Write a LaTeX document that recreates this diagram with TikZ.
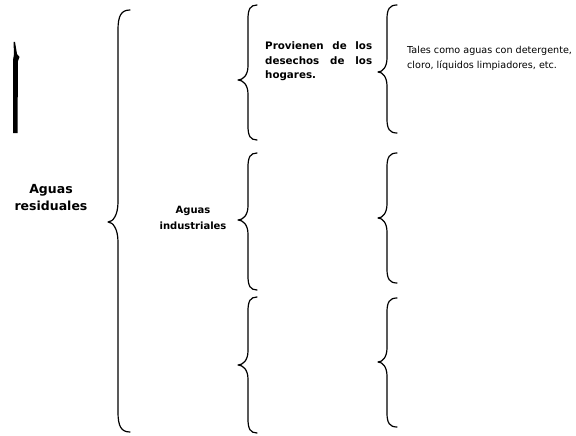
\documentclass[tikz,border=0pt]{standalone}
\usepackage{fontspec}
\setmainfont{DejaVu Sans}
\begin{document}
\begin{tikzpicture}[x=1pt,y=-1pt,
  bracestyle/.style={draw=black,line width=1.2pt,line cap=round,line join=round},
  bigtitle/.style={font=\bfseries\fontsize{12.5}{17}\selectfont,align=center,inner sep=0pt},
  subtitle/.style={font=\bfseries\fontsize{10}{16}\selectfont,align=center,inner sep=0pt},
  bodybold/.style={font=\bfseries\fontsize{10.3}{14.5}\selectfont,text width=107pt,align=justify,inner sep=0pt},
  bodyreg/.style={font=\fontsize{9.6}{15.5}\selectfont,align=left,inner sep=0pt}
]
\useasboundingbox (0,0) rectangle (576,436);
\fill[white] (0,0) rectangle (576,436);

% brace: #1 x of spine, #2 top y, #3 tip y, #4 bottom y, #5 end width, #6 tip width, #7 curve length
\newcommand\curlybr[7]{%
  \draw[bracestyle] ({#1+#5},{#2}) .. controls ({#1+0.25*#5},{#2}) and ({#1},{#2+0.3*#7}) .. ({#1},{#2+#7})
    -- ({#1},{#3-#7}) .. controls ({#1},{#3-0.35*#7}) and ({#1-0.5*#6},{#3}) .. ({#1-#6},{#3})
    .. controls ({#1-0.5*#6},{#3}) and ({#1},{#3+0.35*#7}) .. ({#1},{#3+#7})
    -- ({#1},{#4-#7}) .. controls ({#1},{#4-0.3*#7}) and ({#1+0.25*#5},{#4}) .. ({#1+#5},{#4});}

% left artifact bar
\fill[black] (13.5,42) -- (15,42) -- (17,54) -- (19.5,57) -- (18,61) -- (17.5,133) -- (13,133) -- (13,60) -- (14,54) -- cycle;

% big brace
\curlybr{118}{10}{222}{432}{12}{10}{20}
% middle column braces
\curlybr{248}{5}{80}{140}{9}{10}{14}
\curlybr{248}{153}{220}{290}{9}{10}{14}
\curlybr{248}{297}{365}{433}{9}{10}{14}
% right column braces
\curlybr{387}{5}{72}{133}{10}{9}{14}
\curlybr{387}{153}{218}{283}{10}{9}{14}
\curlybr{387}{298}{362}{427}{10}{9}{14}

\node[bigtitle] (res) at (51,198) {Aguas\\residuales};
\node[subtitle] (ind) at (193,218) {Aguas\\industriales};
\node[bodybold,anchor=north west] (prov) at (265,41.5) {Provienen de los desechos de los hogares.};
\node[bodyreg,anchor=north west] (tales) at (407,46) {Tales como aguas con detergente,\\cloro, líquidos limpiadores, etc.};
\end{tikzpicture}
\end{document}
